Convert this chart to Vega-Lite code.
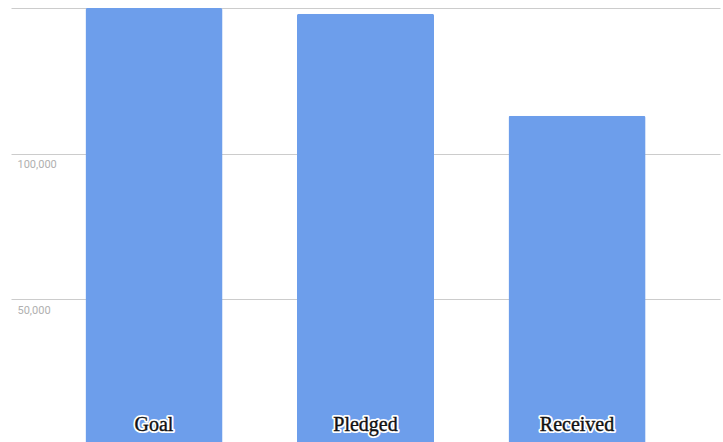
{
  "$schema": "https://vega.github.io/schema/vega-lite/v6.json",
  "autosize": "none",
  "width": 709,
  "height": 434,
  "padding": {"left": 11, "top": 8, "right": 3, "bottom": 0},
  "background": "white",
  "config": {"view": {"stroke": null}},
  "data": {
    "values": [
      {"category": "Goal", "amount": 150000},
      {"category": "Pledged", "amount": 148000},
      {"category": "Received", "amount": 113000}
    ]
  },
  "encoding": {
    "x": {
      "field": "category",
      "type": "nominal",
      "sort": null,
      "scale": {"paddingInner": 0.352, "paddingOuter": 0.352},
      "axis": null
    }
  },
  "layer": [
    {
      "mark": {"type": "bar", "color": "#6d9eeb", "cornerRadiusTopLeft": 2, "cornerRadiusTopRight": 2},
      "encoding": {
        "y": {
          "field": "amount",
          "type": "quantitative",
          "scale": {"domain": [1027, 150000], "nice": false, "zero": false, "clamp": true},
          "axis": {
            "title": null,
            "values": [50000, 100000, 150000],
            "labelExpr": "datum.value == 150000 ? '' : datum.label",
            "domain": false,
            "ticks": false,
            "grid": true,
            "gridColor": "#cccccc",
            "gridWidth": 1,
            "labelAlign": "left",
            "labelBaseline": "top",
            "labelPadding": -6,
            "labelOffset": 5,
            "labelColor": "#b0b0b0",
            "labelFont": "Roboto",
            "labelFontSize": 11,
            "zindex": 0
          }
        }
      }
    },
    {
      "mark": {"type": "text", "font": "Liberation Serif", "fontSize": 20, "baseline": "alphabetic", "dy": -11, "fill": "white", "stroke": "white", "strokeWidth": 4, "strokeJoin": "round"},
      "encoding": {
        "y": {"datum": 0, "type": "quantitative"},
        "text": {"field": "category"}
      }
    },
    {
      "mark": {"type": "text", "font": "Liberation Serif", "fontSize": 20, "baseline": "alphabetic", "dy": -11, "color": "#111111", "stroke": "#111111", "strokeWidth": 0.4},
      "encoding": {
        "y": {"datum": 0, "type": "quantitative"},
        "text": {"field": "category"}
      }
    }
  ]
}
